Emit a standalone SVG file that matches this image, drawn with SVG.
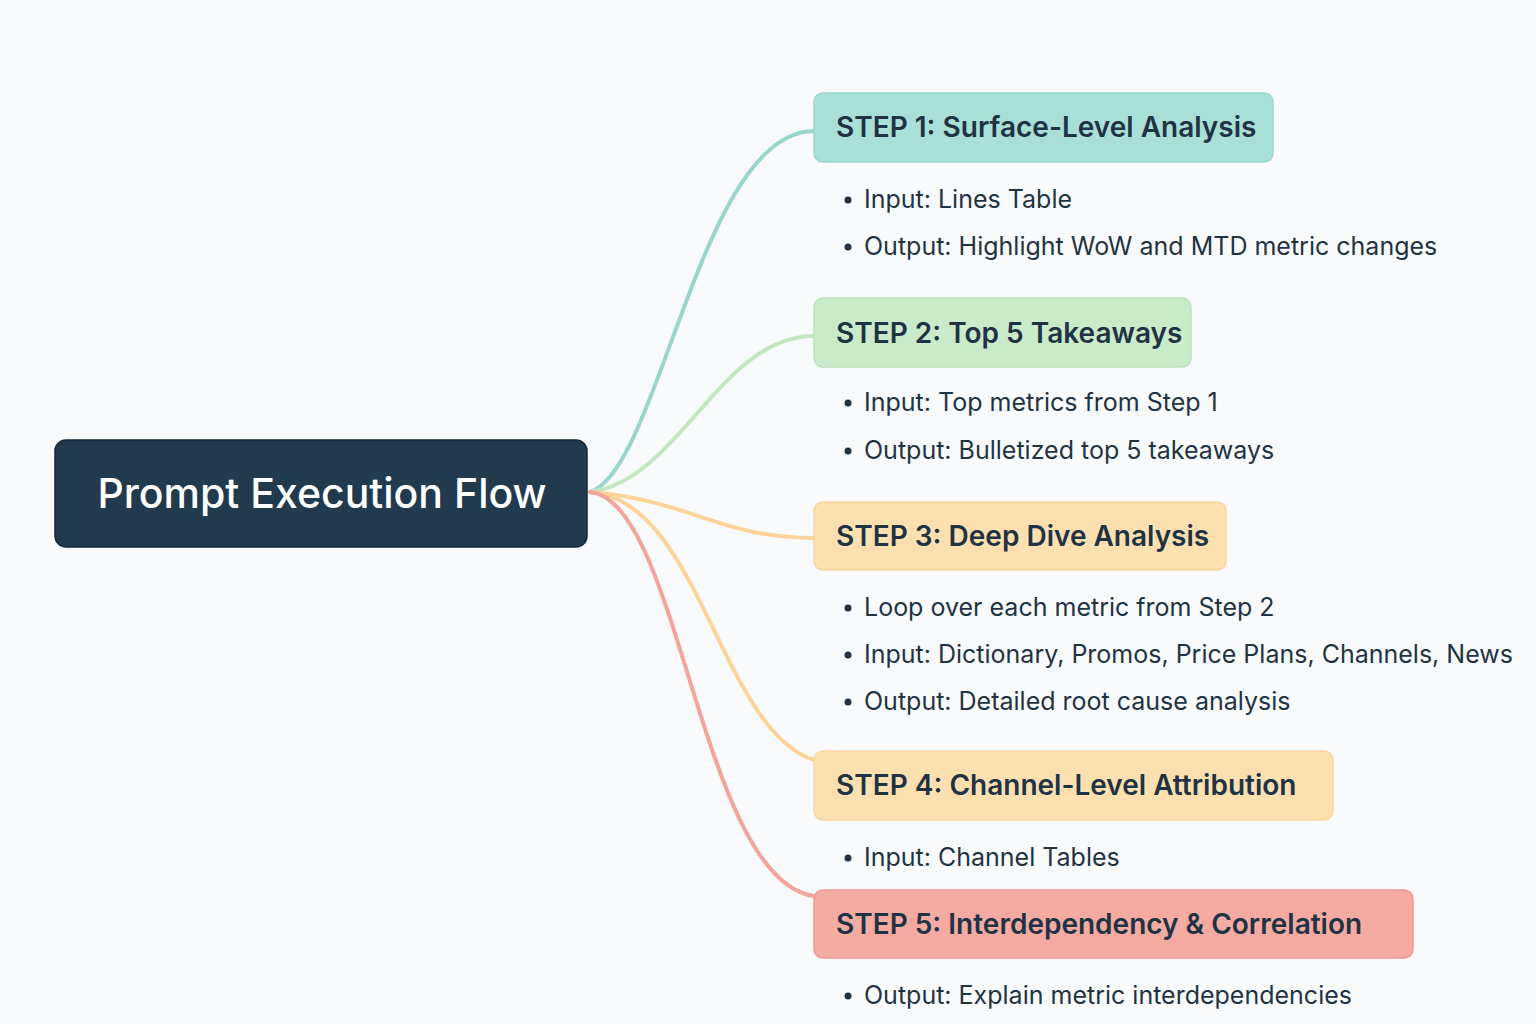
<svg xmlns="http://www.w3.org/2000/svg" width="1536" height="1024" viewBox="0 0 1536 1024">
<defs>
<style>
.bg{fill:#f9fafb}
.root{fill:#213a4d;stroke:#16293a;stroke-width:1.5}
.title{font-family:Inter,"Noto Sans","Liberation Sans",sans-serif;font-size:41px;font-weight:500;fill:#ffffff}
.head{font-family:Inter,"Noto Sans","Liberation Sans",sans-serif;font-size:28px;font-weight:600;fill:#1f3344}
.item{font-family:Inter,"Noto Sans","Liberation Sans",sans-serif;font-size:25px;font-weight:400;fill:#1f3344}
.dot{fill:#1f3344}
.conn{fill:none;stroke-width:4;stroke-linecap:round}
</style>
</defs>
<rect class="bg" x="0" y="0" width="1536" height="1024"/>
<g id="connectors">
<path class="conn" stroke="#9ad6cc" d="M590,492 C660,470 700,131 814,131"/>
<path class="conn" stroke="#c4e7c2" d="M590,492 C680,480 720,336 814,336"/>
<path class="conn" stroke="#fcd49a" d="M590,492 C690,500 720,538 814,538"/>
<path class="conn" stroke="#fcd49a" d="M590,492 C700,500 720,730 814,760"/>
<path class="conn" stroke="#f2a59c" d="M590,492 C680,500 700,880 814,896"/>
</g>
<g id="root">
<rect class="root" x="55" y="440" width="532" height="107" rx="11"/>
<text class="title" x="322" y="508" text-anchor="middle">Prompt Execution Flow</text>
</g>
<g id="step1">
<rect x="814" y="93" width="459" height="69" rx="9" fill="#a8e0d7" stroke="#9ad8cd" stroke-width="1.5"/>
<text class="head" x="836" y="137">STEP 1: Surface-Level Analysis</text>
<circle class="dot" cx="848" cy="200" r="3.5"/>
<text class="item" x="864" y="208">Input: Lines Table</text>
<circle class="dot" cx="848" cy="247" r="3.5"/>
<text class="item" x="864" y="255">Output: Highlight WoW and MTD metric changes</text>
</g>
<g id="step2">
<rect x="814" y="298" width="377" height="69" rx="9" fill="#c9ebc9" stroke="#bde4bd" stroke-width="1.5"/>
<text class="head" x="836" y="343">STEP 2: Top 5 Takeaways</text>
<circle class="dot" cx="848" cy="403" r="3.5"/>
<text class="item" x="864" y="411">Input: Top metrics from Step 1</text>
<circle class="dot" cx="848" cy="451" r="3.5"/>
<text class="item" x="864" y="459">Output: Bulletized top 5 takeaways</text>
</g>
<g id="step3">
<rect x="814" y="502" width="412" height="68" rx="9" fill="#fde0b0" stroke="#fbd6a0" stroke-width="1.5"/>
<text class="head" x="836" y="546">STEP 3: Deep Dive Analysis</text>
<circle class="dot" cx="848" cy="608" r="3.5"/>
<text class="item" x="864" y="616">Loop over each metric from Step 2</text>
<circle class="dot" cx="848" cy="655" r="3.5"/>
<text class="item" x="864" y="663">Input: Dictionary, Promos, Price Plans, Channels, News</text>
<circle class="dot" cx="848" cy="702" r="3.5"/>
<text class="item" x="864" y="710">Output: Detailed root cause analysis</text>
</g>
<g id="step4">
<rect x="814" y="751" width="519" height="69" rx="9" fill="#fde0b0" stroke="#fbd6a0" stroke-width="1.5"/>
<text class="head" x="836" y="795">STEP 4: Channel-Level Attribution</text>
<circle class="dot" cx="848" cy="858" r="3.5"/>
<text class="item" x="864" y="866">Input: Channel Tables</text>
</g>
<g id="step5">
<rect x="814" y="890" width="599" height="68" rx="9" fill="#f5aaa2" stroke="#f09a92" stroke-width="1.5"/>
<text class="head" x="836" y="934">STEP 5: Interdependency &amp; Correlation</text>
<circle class="dot" cx="848" cy="996" r="3.5"/>
<text class="item" x="864" y="1004">Output: Explain metric interdependencies</text>
</g>
</svg>
